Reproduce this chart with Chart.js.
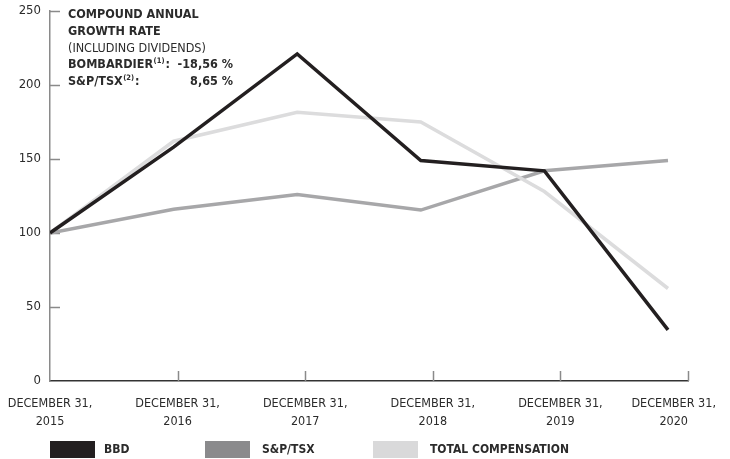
<!DOCTYPE html>
<html>
<head>
<meta charset="utf-8">
<script src="https://cdn.jsdelivr.net/npm/chart.js@4.4.1/dist/chart.umd.min.js"></script>
<style>
  html, body { margin: 0; padding: 0; background: #ffffff; }
  #wrap { width: 730px; height: 459px; position: relative; }
</style>
</head>
<body>
<div id="wrap"><canvas id="c" width="730" height="459"></canvas></div>
<script>
// ---- data ----
const categories = [
  ["DECEMBER 31,", "2015"],
  ["DECEMBER 31,", "2016"],
  ["DECEMBER 31,", "2017"],
  ["DECEMBER 31,", "2018"],
  ["DECEMBER 31,", "2019"],
  ["DECEMBER 31,", "2020"]
];
const seriesNames = ["BBD", "S&P/TSX", "TOTAL COMPENSATION"];
const bbd = [100, 158, 221, 149, 142, 34.5];
const sptsx = [100, 116, 126, 115.5, 142, 149];
const totalComp = [100, 162, 181.5, 175, 128, 62.5];
const yTicks = [0, 50, 100, 150, 200, 250];
const growthTitle = ["COMPOUND ANNUAL", "GROWTH RATE"];
const growthSub = "(INCLUDING DIVIDENDS)";
const growthRows = [
  { name: "BOMBARDIER", note: "(1)", value: "-18,56 %" },
  { name: "S&P/TSX", note: "(2)", value: "8,65 %" }
];

// ---- style ----
const FONT = '"DejaVu Sans Condensed", "Liberation Sans Narrow", "Open Sans", sans-serif';
const lineColors = ["#231f20", "#a7a7a9", "#dcdcdd"];
const legendColors = ["#231f20", "#8a8a8c", "#d9d9da"];
const TEXT = "#2b2b2b";

const toPts = arr => arr.map((v, i) => ({ x: i, y: v }));

const inwardTicks = {
  id: "inwardTicks",
  beforeDatasetsDraw(chart) {
    const ctx = chart.ctx, ca = chart.chartArea;
    const x = chart.scales.x, y = chart.scales.y;
    ctx.save();
    ctx.strokeStyle = "#8a8a8a";
    ctx.lineWidth = 1.5;
    ctx.beginPath();
    yTicks.forEach(v => {
      if (v === 0) return;
      const py = Math.round(y.getPixelForValue(v)) + 0.5;
      ctx.moveTo(ca.left, py); ctx.lineTo(ca.left + 10, py);
    });
    categories.forEach((c, i) => {
      if (i === 0) return;
      const px = Math.round(x.getPixelForValue(i)) + 0.5;
      ctx.moveTo(px, ca.bottom); ctx.lineTo(px, ca.bottom - 10);
    });
    ctx.stroke();
    ctx.restore();
  }
};

const notes = {
  id: "notes",
  afterDraw(chart) {
    const ctx = chart.ctx;
    ctx.save();
    ctx.fillStyle = TEXT;
    ctx.textBaseline = "middle";
    ctx.textAlign = "left";
    const left = 68, rightEdge = 233, fs = 12.5;
    ctx.font = "bold " + fs + "px " + FONT;
    ctx.fillText(growthTitle[0], left, 15);
    ctx.fillText(growthTitle[1], left, 32);
    ctx.font = fs + "px " + FONT;
    ctx.fillText(growthSub, left, 48.5);
    growthRows.forEach((r, i) => {
      const yy = 65 + i * 17;
      ctx.font = "bold " + fs + "px " + FONT;
      ctx.textAlign = "left";
      ctx.fillText(r.name, left, yy);
      const w = ctx.measureText(r.name).width;
      ctx.font = "bold 7.5px " + FONT;
      ctx.fillText(r.note, left + w + 0.5, yy - 4);
      const w2 = ctx.measureText(r.note).width;
      ctx.font = "bold " + fs + "px " + FONT;
      ctx.fillText(":", left + w + w2 + 1.5, yy);
      ctx.textAlign = "right";
      ctx.fillText(r.value, rightEdge, yy);
    });
    // legend
    const boxX = [50, 205, 373], textX = [104, 262, 430];
    ctx.textAlign = "left";
    ctx.font = "bold 12px " + FONT;
    seriesNames.forEach((n, i) => {
      ctx.fillStyle = legendColors[i];
      ctx.fillRect(boxX[i], 441, 45, 17);
      ctx.fillStyle = TEXT;
      ctx.fillText(n, textX[i], 450);
    });
    ctx.restore();
  }
};

new Chart(document.getElementById("c"), {
  type: "line",
  data: {
    datasets: [
      { label: seriesNames[0], data: toPts(bbd), borderColor: lineColors[0], borderWidth: 3.5, order: 1, xAxisID: "xd" },
      { label: seriesNames[1], data: toPts(sptsx), borderColor: lineColors[1], borderWidth: 3.5, order: 3, xAxisID: "xd" },
      { label: seriesNames[2], data: toPts(totalComp), borderColor: lineColors[2], borderWidth: 3.5, order: 2, xAxisID: "xd" }
    ]
  },
  options: {
    responsive: false,
    animation: false,
    devicePixelRatio: 1,
    layout: { padding: { left: 0, right: 42, top: 11, bottom: 0 } },
    elements: { point: { radius: 0, hoverRadius: 0 }, line: { tension: 0, borderJoinStyle: "miter", borderCapStyle: "butt" } },
    plugins: { legend: { display: false }, tooltip: { enabled: false } },
    scales: {
      xd: { type: "linear", display: false, min: 0, max: 5 * 638 / 618 },
      x: {
        type: "linear", position: "bottom", min: 0, max: 5,
        grid: { display: false, drawTicks: false },
        border: { display: true, color: "#333333", width: 1.5 },
        ticks: {
          stepSize: 1, autoSkip: false, maxRotation: 0, minRotation: 0, padding: 14,
          color: TEXT, font: { family: FONT, size: 12.5, lineHeight: 1.45 },
          callback: v => {
            const c = categories[v];
            if (!c) return "";
            if (v === categories.length - 1) return c.map(s => s + "\u2007\u2007\u2007\u2007");
            return c;
          }
        },
        afterFit: s => { s.height = 78; s.paddingRight = 0; s.paddingLeft = 0; s.paddingTop = 0; s.paddingBottom = 0; }
      },
      y: {
        type: "linear", min: 0, max: 250,
        grid: { display: false, drawTicks: false },
        border: { display: true, color: "#8a8a8a", width: 1.5 },
        ticks: {
          stepSize: 50, padding: 9, color: TEXT,
          font: { family: FONT, size: 13 },
          callback: v => yTicks.includes(v) ? String(v) : ""
        },
        afterFit: s => { s.width = 50; s.paddingTop = 0; s.paddingBottom = 0; }
      }
    }
  },
  plugins: [inwardTicks, notes]
});
</script>
</body>
</html>
